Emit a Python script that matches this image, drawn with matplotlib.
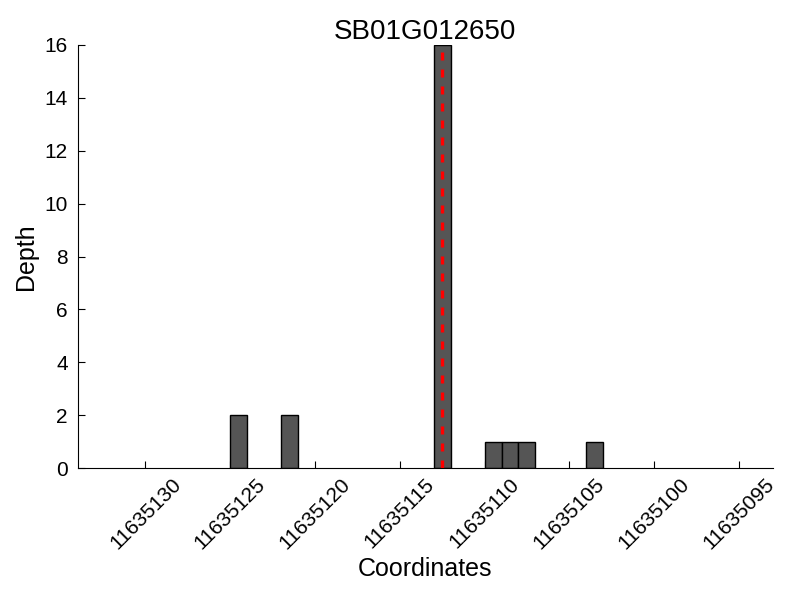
import matplotlib
matplotlib.use("Agg")
import matplotlib.pyplot as plt

plt.rcParams['font.family'] = ['Liberation Sans', 'DejaVu Sans']

title = "SB01G012650"
positions = [11635124, 11635121, 11635112, 11635109, 11635108, 11635107, 11635103]
depths = [2, 2, 16, 1, 1, 1, 1]
marker_pos = 11635112.5
xticks = [11635130, 11635125, 11635120, 11635115, 11635110, 11635105, 11635100, 11635095]
yticks = [0, 2, 4, 6, 8, 10, 12, 14, 16]

fig = plt.figure(figsize=(8, 6), dpi=100)
ax = fig.add_axes([0.097, 0.22, 0.869, 0.705])
ax.bar(positions, depths, width=1, align='edge', color='#555555', edgecolor='black', linewidth=1, zorder=2)
ax.axvline(marker_pos, color='#ff0000', linestyle='--', linewidth=2.4, dashes=(2.4, 2.7), zorder=3)
ax.set_xlim(11635134, 11635093)
ax.set_ylim(0, 16)
ax.set_xticks(xticks)
ax.set_xticklabels([str(t) for t in xticks], rotation=45, ha='center')
ax.set_yticks(yticks)
ax.tick_params(direction='in', length=5, labelsize=15, top=False, right=False)
ax.tick_params(axis='x', pad=5)
ax.tick_params(axis='y', pad=7)
for s in ['top', 'right']:
    ax.spines[s].set_visible(False)
ax.set_xlabel("Coordinates", fontsize=18, labelpad=3)
ax.set_ylabel("Depth", fontsize=18, labelpad=5)
ax.set_title(title, fontsize=20, pad=4)
fig.savefig("out.png", dpi=100)
